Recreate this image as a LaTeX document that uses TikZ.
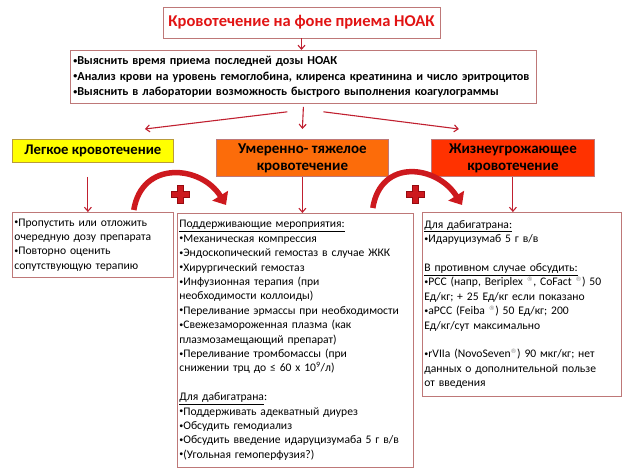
\documentclass[tikz,border=0pt]{standalone}
\usepackage{fontspec}
\setmainfont{Carlito}
\newfontfamily\symfont{DejaVu Sans}
\usetikzlibrary{arrows.meta}

\definecolor{arrowred}{RGB}{192,32,48}
\definecolor{boxline}{RGB}{190,120,120}
\definecolor{titlered}{RGB}{225,20,20}
\definecolor{lightfill}{RGB}{255,255,0}
\definecolor{lightline}{RGB}{185,155,60}
\definecolor{modfill}{RGB}{252,108,10}
\definecolor{severefill}{RGB}{255,50,0}
\definecolor{arcred}{RGB}{205,25,30}
\definecolor{arcdark}{RGB}{150,10,15}

\newcommand{\regsign}{\textsuperscript{\color{gray}\symfont\fontsize{6}{6}\selectfont ®}}
\newcommand{\bul}{\raisebox{0.25ex}{\fontsize{8}{8}\selectfont•}}

\begin{document}
\begin{tikzpicture}[x=1pt,y=-1pt,
    box/.style={draw=boxline, line width=0.8pt, inner sep=0pt},
    note/.style={box, anchor=north west, align=left, inner xsep=2pt,
      font=\fontsize{11.6}{14.4}\selectfont},
    grade/.style={draw=boxline, line width=0.8pt, anchor=north west, align=center,
      inner sep=0pt, font=\bfseries\fontsize{15}{17}\selectfont},
    arr/.style={draw=arrowred, line width=1.1pt, -{Straight Barb[length=4pt,width=7pt]}},
    bendarrow/.style={draw=arcred, line width=5.5pt, -{Triangle[width=18pt,length=11pt]}},
    cross/.style={fill=arcred, draw=arcdark, line width=0.8pt}]
  \useasboundingbox (0,0) rectangle (628,472);

  % --- top: heading and what to check first ---
  \node[box, minimum width=277pt, minimum height=31pt, text=titlered,
        font=\bfseries\fontsize{16.5}{19}\selectfont] (title) at (301.5,22.5)
    {Кровотечение на фоне приема НОАК};

  \node[note, font=\bfseries\fontsize{12.2}{15.5}\selectfont, text width=460pt,
        inner xsep=3pt, minimum height=53pt] (info) at (70,50)
    {\bul Выяснить время приема последней дозы НОАК\\
     \bul Анализ крови на уровень гемоглобина, клиренса креатинина и число эритроцитов\\
     \bul Выяснить в лаборатории возможность быстрого выполнения коагулограммы};

  % --- three grades of bleeding ---
  \node[grade, fill=lightfill, draw=lightline, minimum width=161pt, minimum height=23pt,
        font=\bfseries\fontsize{14.7}{17}\selectfont]
    (light) at (12,139) {Легкое кровотечение};
  \node[grade, fill=modfill, minimum width=172pt, minimum height=37pt]
    (mod) at (216,139) {Умеренно- тяжелое\\кровотечение};
  \node[grade, fill=severefill, minimum width=163pt, minimum height=37pt]
    (severe) at (431,139) {Жизнеугрожающее\\кровотечение};

  % --- what to do in each case ---
  \node[note, text width=157pt, minimum height=65pt] (lbox) at (12,212)
    {\bul Пропустить или отложить\\
     очередную дозу препарата\\
     \bul Повторно оценить\\
     сопутствующую терапию};

  \node[note, text width=232pt, minimum height=254pt] (mbox) at (177,213)
    {\underline{Поддерживающие мероприятия:}\\
     \bul Механическая компрессия\\
     \bul Эндоскопический гемостаз в случае ЖКК\\
     \bul Хирургический гемостаз\\
     \bul Инфузионная терапия (при\\
     необходимости коллоиды)\\
     \bul Переливание эрмассы при необходимости\\
     \bul Свежезамороженная плазма (как\\
     плазмозамещающий препарат)\\
     \bul Переливание тромбомассы (при\\
     снижении трц до ≤ 60 x 10\textsuperscript{9}/л)\\[14.4pt]
     \underline{Для дабигатрана}:\\
     \bul Поддерживать адекватный диурез\\
     \bul Обсудить гемодиализ\\
     \bul Обсудить введение идаруцизумаба 5 г в/в\\
     \bul (Угольная гемоперфузия?)};

  \node[note, text width=195pt, minimum height=184pt] (rbox) at (422,212)
    {\underline{Для дабигатрана:}\\
     \bul Идаруцизумаб 5 г в/в\\[14.4pt]
     \underline{В противном случае обсудить:}\\
     \bul PCC (напр, Beriplex \regsign, CoFact \regsign) 50\\
     Ед/кг; + 25 Ед/кг если показано\\
     \bul aPCC (Feiba \regsign) 50 Ед/кг; 200\\
     Ед/кг/сут максимально\\[14.4pt]
     \bul rVIIa (NovoSeven\regsign) 90 мкг/кг; нет\\
     данных о дополнительной пользе\\
     от введения};

  % --- thin arrows ---
  \draw[arr] (title.south) -- (title.south |- info.north);
  \draw[arr] ([xshift=-16pt,yshift=-8pt]info.south) -- ([xshift=52pt,yshift=10pt]light.north);
  \draw[arr] ([yshift=-3pt]info.south) -- ([yshift=10pt]mod.north);
  \draw[arr] ([xshift=20pt,yshift=-8pt]info.south) -- ([xshift=-54pt,yshift=10pt]severe.north);

  \draw[arr] ([xshift=-5pt]lbox.north |- mod.south) -- ([xshift=-5pt]lbox.north);
  \draw[arr] (mod.south) -- (mod.south |- mbox.north);
  \draw[arr] (severe.south) -- (severe.south |- rbox.north);

  % --- thick bent arrows with the red crosses ---
  \draw[bendarrow] ([xshift=-40pt,yshift=2pt]lbox.north east)
    .. controls +(8,-50) and +(-25,-40) .. ([xshift=49pt,yshift=8pt]mbox.north west);
  \draw[bendarrow] ([xshift=-41pt,yshift=5pt]mbox.north east)
    .. controls +(8,-50) and +(-25,-40) .. ([xshift=40pt,yshift=7pt]rbox.north west);

  \filldraw[cross] (180,194) ++(-3,-9) -- ++(6,0) -- ++(0,6) -- ++(6,0) -- ++(0,6)
    -- ++(-6,0) -- ++(0,6) -- ++(-6,0) -- ++(0,-6) -- ++(-6,0) -- ++(0,-6) -- ++(6,0) -- cycle;
  \filldraw[cross] (415,194) ++(-3,-9) -- ++(6,0) -- ++(0,6) -- ++(6,0) -- ++(0,6)
    -- ++(-6,0) -- ++(0,6) -- ++(-6,0) -- ++(0,-6) -- ++(-6,0) -- ++(0,-6) -- ++(6,0) -- cycle;
\end{tikzpicture}
\end{document}
